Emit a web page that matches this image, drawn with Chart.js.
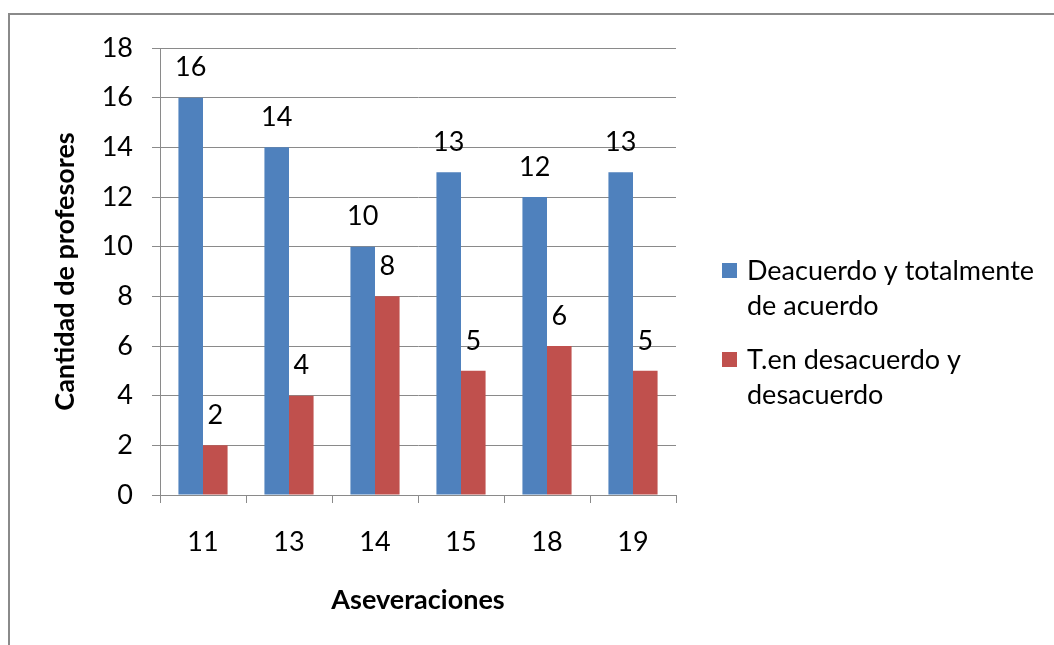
<!DOCTYPE html>
<html><head><meta charset="utf-8">
<script src="https://cdn.jsdelivr.net/npm/chart.js@4/dist/chart.umd.min.js"></script>
<style>
html,body{margin:0;padding:0;background:#fff;}
#wrap{position:relative;width:1054px;height:645px;overflow:hidden;}
#frame{position:absolute;left:8px;top:13px;width:1200px;height:800px;border-top:2px solid #8a8a8a;border-left:2px solid #8a8a8a;}
canvas{position:absolute;left:0;top:0;}
</style></head>
<body><div id="wrap"><div id="frame"></div><canvas id="c" width="1054" height="645"></canvas></div>
<script>
const categories = ["11","13","14","15","18","19"];
const acuerdo = [16,14,10,13,12,13];
const desacuerdo = [2,4,8,5,6,5];
const seriesNames = [["Deacuerdo y totalmente","de acuerdo"],["T.en desacuerdo y","desacuerdo"]];
const yTitle = "Cantidad de profesores";
const xTitle = "Aseveraciones";
const colors = ["#4F81BD","#C0504D"];
const FONT = "Lato, 'Liberation Sans', sans-serif";
const FS = 27;

const valueLabels = {
  id:'valueLabels',
  afterDatasetsDraw(chart){
    const ctx = chart.ctx;
    ctx.save();
    ctx.font = FS + "px " + FONT;
    ctx.fillStyle = "#000";
    ctx.textAlign = "center";
    ctx.textBaseline = "middle";
    chart.data.datasets.forEach((ds,i)=>{
      chart.getDatasetMeta(i).data.forEach((bar,j)=>{
        ctx.fillText(String(ds.data[j]), bar.x, bar.y - 30);
      });
    });
    ctx.restore();
  }
};
const sideLegend = {
  id:'sideLegend',
  afterDraw(chart){
    const ctx = chart.ctx;
    ctx.save();
    ctx.font = FS + "px " + FONT;
    ctx.textBaseline = "middle";
    ctx.textAlign = "left";
    const starts = [271, 360];
    chart.data.datasets.forEach((ds,i)=>{
      const y0 = starts[i];
      ctx.fillStyle = ds.backgroundColor;
      ctx.fillRect(722, y0 - 8, 15, 15);
      ctx.fillStyle = "#000";
      seriesNames[i].forEach((line,k)=>{
        ctx.fillText(line, 747, y0 + k*35);
      });
    });
    ctx.restore();
  }
};

new Chart(document.getElementById('c'), {
  type:'bar',
  data:{
    labels: categories,
    datasets:[
      {label: seriesNames[0].join(" "), data: acuerdo, backgroundColor: colors[0]},
      {label: seriesNames[1].join(" "), data: desacuerdo, backgroundColor: colors[1]}
    ]
  },
  options:{
    responsive:false,
    animation:false,
    devicePixelRatio:1,
    layout:{padding:{left:0,top:48,right:378,bottom:0}},
    plugins:{legend:{display:false},tooltip:{enabled:false}},
    datasets:{bar:{categoryPercentage:2/3.5,barPercentage:1}},
    scales:{
      x:{
        grid:{display:true,drawOnChartArea:false,color:"#8a8a8a",tickLength:8,offset:true},
        border:{color:"#8a8a8a",width:1},
        ticks:{color:"#000",font:{family:FONT,size:FS},padding:23},
        title:{display:true,text:xTitle,color:"#000",font:{family:FONT,size:FS,weight:'bold'},padding:{top:0,bottom:29}},
        afterFit(s){ s.height = 150; }
      },
      y:{
        min:0,max:18,
        ticks:{stepSize:2,color:"#000",font:{family:FONT,size:FS},padding:19},
        grid:{color:"#8a8a8a",tickLength:8},
        border:{color:"#8a8a8a",width:1},
        title:{display:true,text:yTitle,color:"#000",font:{family:FONT,size:FS,weight:'bold'},padding:{top:49,bottom:0}},
        afterFit(s){ s.width = 160; }
      }
    }
  },
  plugins:[valueLabels, sideLegend]
});
</script></body></html>
